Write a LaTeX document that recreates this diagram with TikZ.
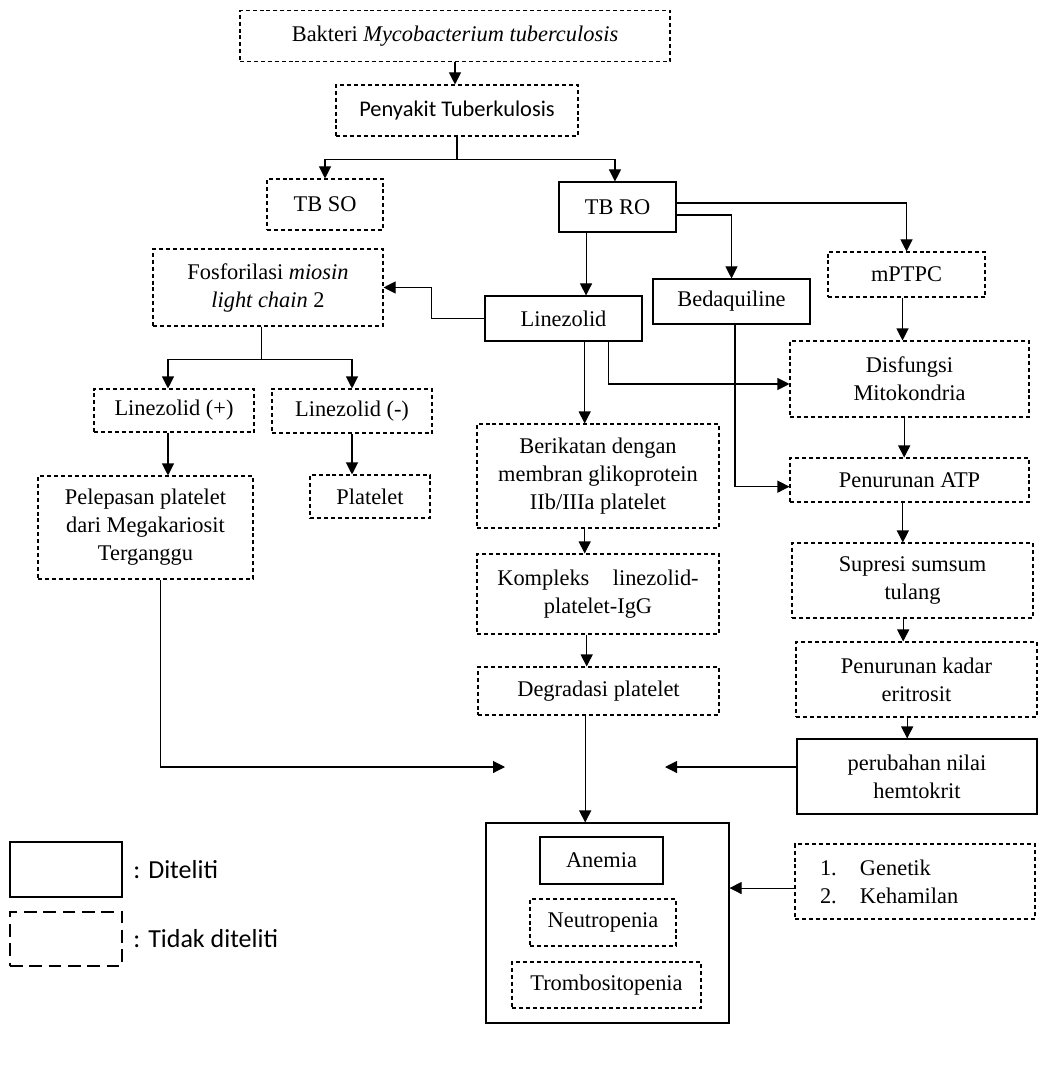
\documentclass[tikz,border=0pt]{standalone}
\usepackage{fontspec}
\setmainfont{Liberation Serif}
\newfontfamily\calibri{Carlito}
\usetikzlibrary{arrows.meta, positioning}

\begin{document}
\begin{tikzpicture}[x=0.75pt, y=-0.75pt,
  font=\fontsize{16.8}{21}\selectfont,
  box/.style={draw, line width=0.8pt, align=center, inner sep=0pt},
  dbox/.style={box, dash pattern=on 3pt off 2.2pt},
  arr/.style={-{Triangle[length=9pt,width=9pt]}, line width=0.8pt}]
	\useasboundingbox (0,0) rectangle (1062,1080);

	% Cause
	\node (bakteri) at (455,36) [dbox,minimum width=322.5pt,minimum height=38.25pt] {Bakteri \textit{Mycobacterium tuberculosis}};
	\node (penyakit) at (457,110.5) [dbox,minimum width=181.5pt,minimum height=38.25pt,font=\calibri\fontsize{16.8}{21}\selectfont] {Penyakit Tuberkulosis};
	\node (tbso) at (325,204.5) [dbox,minimum width=87pt,minimum height=38.25pt] {TB SO};
	\node (tbro) at (617.5,207) [box,minimum width=87.75pt,minimum height=37.5pt] {TB RO};

	% Drugs
	\node (mptpc) at (906.5,274.5) [dbox,minimum width=117.75pt,minimum height=33.75pt] {mPTPC};
	\node (bedaquiline) at (731.5,301.5) [box,minimum width=117.75pt,minimum height=33.75pt] {Bedaquiline};
	\node (linezolid) at (563.5,318.5) [box,minimum width=117.75pt,minimum height=33.75pt] {Linezolid};

	% Left branch
	\node (fosforilasi) at (268,287.5) [dbox,minimum width=172.5pt,minimum height=57.75pt] {Fosforilasi \textit{miosin}\\\textit{light chain} 2};
	\node (linplus) at (174,410.5) [dbox,minimum width=120pt,minimum height=32.25pt] {Linezolid (+)};
	\node (linminus) at (352,411) [dbox,minimum width=120pt,minimum height=33pt] {Linezolid (-)};
	\node (pelepasan) at (145.5,527.5) [dbox,minimum width=161.25pt,minimum height=77.25pt] {Pelepasan platelet\\dari Megakariosit\\Terganggu};
	\node (platelet) at (370,496.5) [dbox,minimum width=90pt,minimum height=32.25pt] {Platelet};

	% Middle branch
	\node (berikatan) at (598,476) [dbox,minimum width=181.5pt,minimum height=78pt] {Berikatan dengan\\membran glikoprotein\\IIb/IIIa platelet};
	\node (kompleks) at (598,594) [dbox,minimum width=181.5pt,minimum height=60pt] {\makebox[151pt][s]{Kompleks\hfill linezolid-}\\platelet-IgG};
	\node (degradasi) at (598.5,691) [dbox,minimum width=180.75pt,minimum height=36pt] {Degradasi platelet};

	% Right branch
	\node (disfungsi) at (909.5,379) [dbox,minimum width=179.25pt,minimum height=57pt] {Disfungsi\\Mitokondria};
	\node (atp) at (909.5,480) [dbox,minimum width=179.25pt,minimum height=33pt] {Penurunan ATP};
	\node (supresi) at (912.5,580.5) [dbox,minimum width=180.75pt,minimum height=56.25pt] {Supresi sumsum\\tulang};
	\node (eritrosit) at (916.5,679.5) [dbox,minimum width=180.75pt,minimum height=56.25pt] {Penurunan kadar\\eritrosit};
	\node (hematokrit) at (917,776.5) [box,minimum width=180pt,minimum height=56.25pt] {perubahan nilai\\hemtokrit};

	% Outcome
	\node (outcome) at (607.5,923) [box,minimum width=182.25pt,minimum height=150pt] {};
	\node (anemia) at (601.5,860.5) [box,minimum width=92.25pt,minimum height=35.25pt] {Anemia};
	\node (neutropenia) at (603,922.5) [dbox,minimum width=109.5pt,minimum height=35.25pt] {Neutropenia};
	\node (trombosit) at (606.5,985) [dbox,minimum width=141.75pt,minimum height=34.5pt] {Trombositopenia};
	\node (faktor) at (915,881.5) [dbox,minimum width=180pt,minimum height=56.25pt,text width=142.5pt,inner xsep=18.75pt,align=left] {\makebox[30pt][l]{1.}Genetik\\\makebox[30pt][l]{2.}Kehamilan};

	% Legend
	\node (legsolid) at (66,869.5) [draw,line width=1.8pt,minimum width=84pt,minimum height=41.25pt] {};
	\node (legdash) at (66,939) [draw,line width=1.8pt,dash pattern=on 9.5pt off 5pt,minimum width=84pt,minimum height=40.5pt] {};
	\node (lblsolid) [right=7.5pt of legsolid,inner sep=0pt,font=\calibri\fontsize{19.5}{22}\selectfont] {: Diteliti};
	\node (lbldash) [right=7.5pt of legdash,inner sep=0pt,font=\calibri\fontsize{19.5}{22}\selectfont] {: Tidak diteliti};

	% Joints
	\coordinate (jointL) at (505,767);
	\coordinate (jointR) at (665,767);

	% Arrows
	\draw[arr] (bakteri.south) -- (bakteri.south |- penyakit.north);
	\draw[arr] (penyakit.south) -- ++(0,23) -| (tbso.north);
	\draw[arr] (penyakit.south) -- ++(0,23) -| ([xshift=-1.9pt]tbro.north);
	\draw[arr] ([yshift=3pt]tbro.east) -| (mptpc.north);
	\draw[arr] ([yshift=-6pt]tbro.east) -| (bedaquiline.north);
	\draw[arr] ([xshift=-23.6pt]tbro.south) -- ([xshift=-23.6pt]tbro.south |- linezolid.north);
	\draw[arr] (linezolid.west) -- ++(-53,0) |- (fosforilasi.east);
	\draw[arr] ([xshift=-5pt]fosforilasi.south) -- ++(0,33) -| ([xshift=-4.5pt]linplus.north);
	\draw[arr] ([xshift=-5pt]fosforilasi.south) -- ++(0,33) -| (linminus.north);
	\draw[arr] ([xshift=-4.5pt]linplus.south) -- ([xshift=-4.5pt]linplus.south |- pelepasan.north);
	\draw[arr] (linminus.south) -- (linminus.south |- platelet.north);
	\draw[arr] ([xshift=10.9pt]pelepasan.south) |- (jointL);
	\draw[arr] ([xshift=-10pt]berikatan.north |- linezolid.south) -- ([xshift=-10pt]berikatan.north);
	\draw[arr] ([xshift=-10pt]berikatan.south) -- ([xshift=-10pt]berikatan.south |- kompleks.north);
	\draw[arr] ([xshift=-8.5pt]kompleks.south) -- ([xshift=-8.5pt]kompleks.south |- degradasi.north);
	\draw[arr] ([xshift=-10pt]degradasi.south) -- ([xshift=-10pt]degradasi.south |- outcome.north);
	\draw[arr] ([xshift=33.4pt]linezolid.south) |- ([yshift=-3.75pt]disfungsi.west);
	\draw[arr] ([xshift=2.6pt]bedaquiline.south) |- ([yshift=-5pt]atp.west);
	\draw[arr] ([xshift=-3pt]mptpc.south) -- ([xshift=-3pt]mptpc.south |- disfungsi.north);
	\draw[arr] ([xshift=-4pt]disfungsi.south) -- ([xshift=-4pt]disfungsi.south |- atp.north);
	\draw[arr] ([xshift=-5pt]atp.south) -- ([xshift=-5pt]atp.south |- supresi.north);
	\draw[arr] ([xshift=-7pt]supresi.south) -- ([xshift=-7pt]supresi.south |- eritrosit.north);
	\draw[arr] ([xshift=-7pt]eritrosit.south) -- ([xshift=-7pt]eritrosit.south |- hematokrit.north);
	\draw[arr] (hematokrit.west |- jointR) -- (jointR);
	\draw[arr] ([yshift=-4.9pt]faktor.west) -- ([yshift=-4.9pt]faktor.west -| outcome.east);
\end{tikzpicture}
\end{document}
